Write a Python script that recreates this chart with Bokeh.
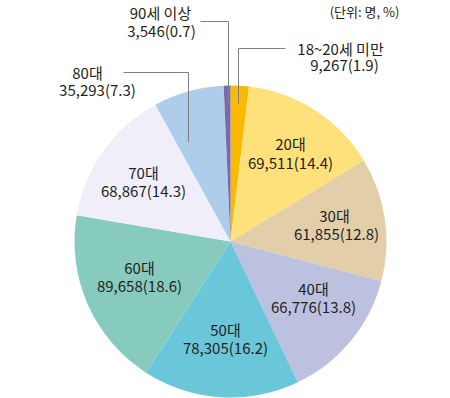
import math
from bokeh.plotting import figure
from bokeh.models import Range1d
from bokeh.core.properties import value
from bokeh.embed import file_html
from bokeh.resources import INLINE

# ---- data ----
categories = ["18~20세 미만", "20대", "30대", "40대", "50대", "60대", "70대", "80대", "90세 이상"]
counts = ["9,267", "69,511", "61,855", "66,776", "78,305", "89,658", "68,867", "35,293", "3,546"]
percents = [1.9, 14.4, 12.8, 13.8, 16.2, 18.6, 14.3, 7.3, 0.7]
colors = ["#FBBA00", "#FEE17A", "#E3CEAA", "#BDC1E0", "#6AC6D9", "#87CBBF", "#F0EFF9", "#ADCDEB", "#7B68AE"]
unit_label = "(단위: 명, %)"

# ---- layout (screen px) ----
W, H = 450, 398
def Y(sy):
    return H - sy

cx, cy, R = 230, Y(241), 156
# label line-1 / line-2 centers (screen coords)
label_pos = [
    ((340, 48), (344, 64)),
    ((290, 143), (290, 162)),
    ((334, 215), (336, 233)),
    ((313, 288), (313, 306)),
    ((225, 329), (225, 347)),
    ((139, 267), (139, 285)),
    ((143, 172), (143, 190)),
    ((87, 72), (97, 89)),
    ((160, 12), (161, 30)),
]
leaders = [
    [(285, 48), (238, 48), (238, 103)],
    [(200, 21), (228, 21), (228, 103)],
    [(123, 72), (188, 72), (188, 142)],
]

p = figure(width=W, height=H, output_backend="svg", toolbar_location=None,
           x_range=Range1d(0, W), y_range=Range1d(0, H),
           min_border=0)
p.axis.visible = False
p.grid.visible = False
p.outline_line_color = None
p.background_fill_color = "white"

total = sum(percents)
cum = 0.0
starts, ends = [], []
for v in percents:
    starts.append(math.pi / 2 - 2 * math.pi * cum / total)
    cum += v
    ends.append(math.pi / 2 - 2 * math.pi * cum / total)

p.wedge(x=[cx] * len(percents), y=[cy] * len(percents), radius=R,
        start_angle=starts, end_angle=ends, direction="clock",
        fill_color=colors, line_color=None)

for pts in leaders:
    p.line([a for a, b in pts], [Y(b) for a, b in pts], line_color="#808080", line_width=1)

font = value("Noto Sans CJK KR")
for cat, cnt, pct, (l1, l2) in zip(categories, counts, percents, label_pos):
    p.text(x=[l1[0]], y=[Y(l1[1])], text=[cat], text_align="center", text_baseline="middle",
           text_font=font, text_font_size="15px", text_color="#231F20")
    p.text(x=[l2[0]], y=[Y(l2[1])], text=[f"{cnt}({pct})"], text_align="center", text_baseline="middle",
           text_font=font, text_font_size="15px", text_color="#231F20")

p.text(x=[364], y=[Y(11)], text=[unit_label], text_align="center", text_baseline="middle",
       text_font=font, text_font_size="13px", text_color="#231F20")

open("out.html", "w").write(file_html(p, INLINE))
